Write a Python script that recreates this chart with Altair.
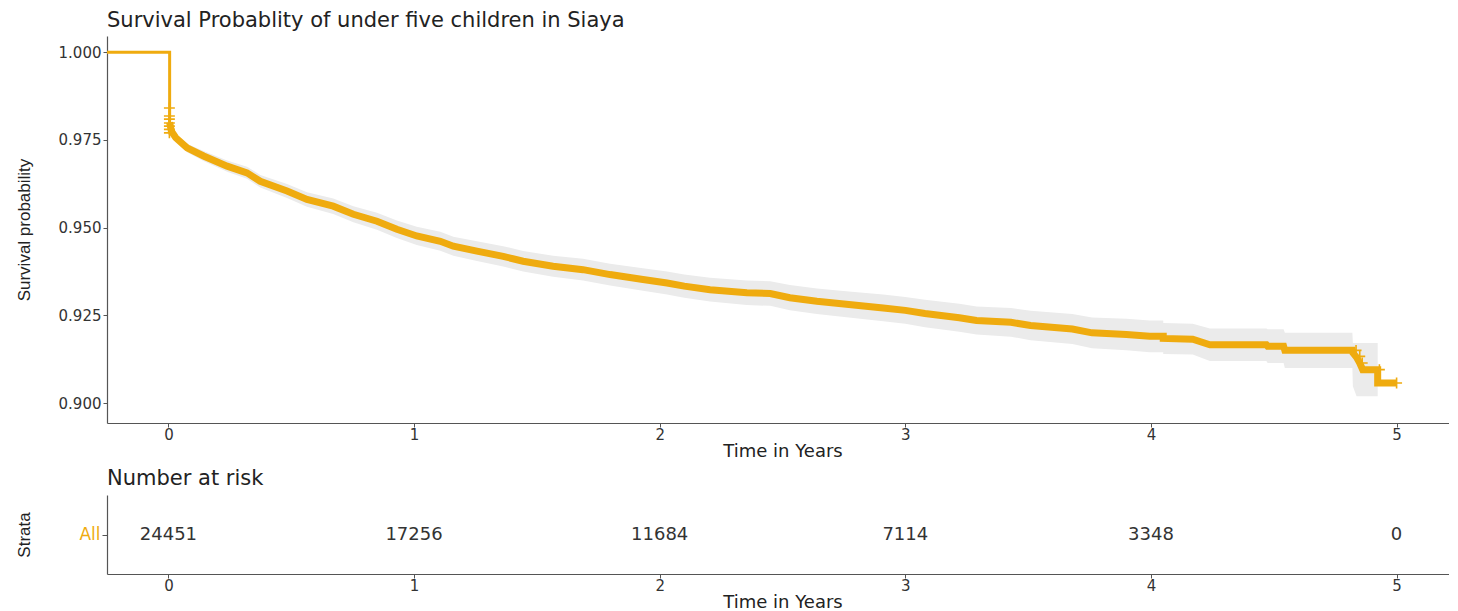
import altair as alt
import pandas as pd

TITLE_TOP = "Survival Probablity of under five children in Siaya"
TITLE_RISK = "Number at risk"

# opening part of the curve: flat at 1.000 from the axis, then the first drop
start_time = [-0.25, 0.005, 0.005]
start_surv = [1.0000, 1.0000, 0.9800]

# Kaplan-Meier curve vertices (time in years, survival, 95% band)
time_years = [0.005, 0.012, 0.030, 0.076, 0.143, 0.239, 0.320, 0.374,
              0.483, 0.564, 0.671, 0.753, 0.849, 0.930, 1.011, 1.107, 1.160, 1.256,
              1.363, 1.444, 1.566, 1.688, 1.798, 1.932, 2.030, 2.100, 2.205, 2.355,
              2.450, 2.530, 2.640, 2.770, 2.910, 3.000, 3.080, 3.220, 3.290, 3.430,
              3.510, 3.680, 3.760, 3.900, 3.995, 4.050, 4.050, 4.170, 4.240, 4.470,
              4.475, 4.540, 4.545, 4.820, 4.822, 4.837, 4.849, 4.862, 4.923, 4.923,
              5.000]
survival = [0.9800, 0.9775, 0.9756, 0.9727, 0.9704, 0.9675, 0.9656, 0.9632,
            0.9604, 0.9580, 0.9561, 0.9538, 0.9518, 0.9495, 0.9476, 0.9461, 0.9447, 0.9433,
            0.9418, 0.9404, 0.9390, 0.9380, 0.9366, 0.9352, 0.9342, 0.9333, 0.9323, 0.9314,
            0.9312, 0.9300, 0.9290, 0.9281, 0.9271, 0.9264, 0.9255, 0.9243, 0.9235, 0.9230,
            0.9221, 0.9211, 0.9200, 0.9195, 0.9190, 0.9190, 0.9184, 0.9182, 0.9166, 0.9166,
            0.9162, 0.9162, 0.9150, 0.9150, 0.9143, 0.9130, 0.9115, 0.9095, 0.9095, 0.9057,
            0.9057]
lower_ci = [0.9792, 0.9766, 0.9746, 0.9715, 0.9690, 0.9659, 0.9639, 0.9614,
            0.9584, 0.9559, 0.9539, 0.9515, 0.9494, 0.9470, 0.9450, 0.9434, 0.9420, 0.9405,
            0.9389, 0.9375, 0.9360, 0.9349, 0.9335, 0.9320, 0.9309, 0.9300, 0.9289, 0.9279,
            0.9277, 0.9264, 0.9254, 0.9244, 0.9233, 0.9226, 0.9216, 0.9203, 0.9195, 0.9189,
            0.9179, 0.9168, 0.9156, 0.9150, 0.9145, 0.9145, 0.9140, 0.9138, 0.9120, 0.9120,
            0.9114, 0.9114, 0.9100, 0.9100, 0.9048, 0.9019, 0.9019, 0.9019, 0.9019, None,
            None]
upper_ci = [0.9808, 0.9784, 0.9766, 0.9739, 0.9718, 0.9691, 0.9673, 0.9650,
            0.9624, 0.9601, 0.9583, 0.9561, 0.9542, 0.9520, 0.9502, 0.9488, 0.9474, 0.9461,
            0.9447, 0.9433, 0.9420, 0.9411, 0.9397, 0.9384, 0.9375, 0.9366, 0.9357, 0.9349,
            0.9347, 0.9336, 0.9326, 0.9318, 0.9309, 0.9302, 0.9294, 0.9283, 0.9275, 0.9271,
            0.9263, 0.9254, 0.9244, 0.9240, 0.9235, 0.9235, 0.9228, 0.9226, 0.9212, 0.9212,
            0.9210, 0.9210, 0.9200, 0.9200, 0.9171, 0.9171, 0.9171, 0.9171, 0.9171, None,
            None]

# censoring marks
censor_time = [0.004, 0.004, 0.004, 0.004, 0.004, 0.004, 0.004, 4.835, 4.850, 4.860, 4.930, 5.000]
censor_surv = [0.9841, 0.9818, 0.9809, 0.9798, 0.9789, 0.9780, 0.9770, 0.9150, 0.9133, 0.9114, 0.9095, 0.9057]

# number at risk table
risk_time = [0, 1, 2, 3, 4, 5]
risk_n = [24451, 17256, 11684, 7114, 3348, 0]
strata = ["All"] * 6

x_ticks = [0, 1, 2, 3, 4, 5]
y_ticks = [0.900, 0.925, 0.950, 0.975, 1.000]

COLOR = "#EFAB0F"
BAND = "#EBEBEB"
FONT = "DejaVu Sans"
YFONT = "Liberation Sans"
W = 1351

km = pd.DataFrame({"time": time_years, "surv": survival, "lower": lower_ci, "upper": upper_ci})
first = pd.DataFrame({"time": start_time, "surv": start_surv})
cens = pd.DataFrame({"time": censor_time, "surv": censor_surv})
risk = pd.DataFrame({"time": risk_time, "n": risk_n, "strata": strata})

xscale = alt.Scale(domain=[-0.25, 5.25], nice=False, zero=False)
yscale = alt.Scale(domain=[0.8943, 1.0046], nice=False, zero=False)


def x_axis():
    return alt.Axis(values=x_ticks, format="d", title="Time in Years", grid=False,
                    domainColor="#555", domainWidth=1.2, tickColor="#555", tickSize=4,
                    labelFont=FONT, labelFontSize=15, labelColor="#333", labelPadding=0,
                    titleFont=FONT, titleFontSize=18, titleFontWeight="normal",
                    titleColor="#222", titlePadding=0)


y_axis = alt.Axis(values=y_ticks, format=".3f", title="Survival probability", grid=False,
                  domainColor="#555", domainWidth=1.2, tickColor="#555", tickSize=4,
                  labelFont=FONT, labelFontSize=15, labelColor="#333", labelPadding=2,
                  titleFont=YFONT, titleFontSize=17, titleFontWeight="normal",
                  titleColor="#222", titleX=-74)

band = alt.Chart(km).transform_filter("isValid(datum.lower)").mark_area(
    color=BAND
).encode(
    x=alt.X("time:Q", scale=xscale, axis=x_axis()),
    y=alt.Y("lower:Q", scale=yscale, axis=y_axis),
    y2="upper:Q",
)

opening = alt.Chart(first).mark_line(color=COLOR, strokeWidth=3).encode(
    x=alt.X("time:Q", scale=xscale),
    y=alt.Y("surv:Q", scale=yscale),
)

line = alt.Chart(km).mark_line(color=COLOR, strokeWidth=7).encode(
    x=alt.X("time:Q", scale=xscale),
    y=alt.Y("surv:Q", scale=yscale),
)

marks = alt.Chart(cens).mark_point(
    shape="M-1,0H1M0,-1V1", size=120, color=COLOR, strokeWidth=1.6, filled=False, opacity=1
).encode(
    x=alt.X("time:Q", scale=xscale),
    y=alt.Y("surv:Q", scale=yscale),
)

top = alt.layer(band, opening, line, marks).properties(
    width=W, height=387,
    title=alt.TitleParams(TITLE_TOP, anchor="start", frame="group", font=FONT, fontSize=21,
                          fontWeight="normal", color="#222", offset=5),
)

table = alt.Chart(risk).mark_text(font=FONT, fontSize=18, color="#333").encode(
    x=alt.X("time:Q", scale=xscale, axis=x_axis()),
    y=alt.Y("strata:N", axis=alt.Axis(title="Strata", grid=False, domainColor="#555",
                                      domainWidth=1.2, tickColor="#555", tickSize=5,
                                      labelFont=FONT, labelFontSize=17, labelColor=COLOR,
                                      labelPadding=2, titleFont=YFONT, titleFontSize=17,
                                      titleFontWeight="normal", titleColor="#222", titleX=-74)),
    text="n:Q",
).properties(
    width=W, height=79,
    title=alt.TitleParams(TITLE_RISK, anchor="start", frame="group", font=FONT, fontSize=21,
                          fontWeight="normal", color="#222", offset=6),
)

chart = alt.vconcat(top, table, spacing=8).properties(
    padding={"left": 7, "top": 2, "right": -9, "bottom": 0}, background="white"
).configure_view(stroke=None)

chart.save("out.html", embed_options={"renderer": "svg", "actions": False})
